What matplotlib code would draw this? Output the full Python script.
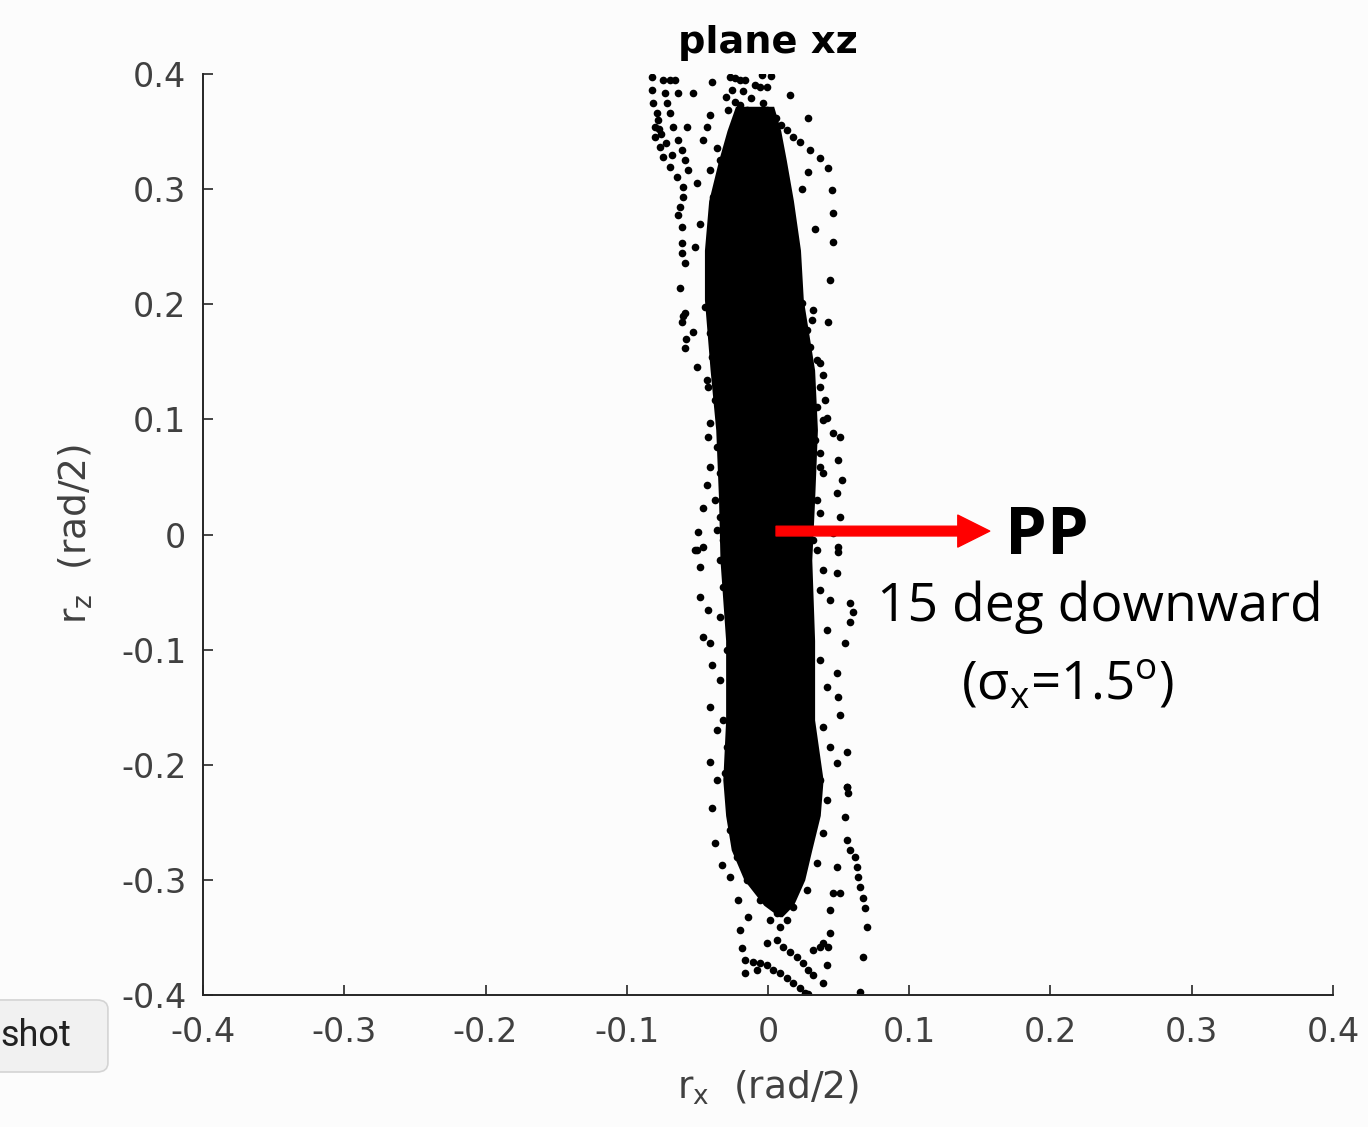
import matplotlib
matplotlib.use("Agg")
import matplotlib.pyplot as plt
from matplotlib.patches import FancyBboxPatch

# dense core of the cloud (solid band)
core_z = [0.372, 0.351, 0.325, 0.290, 0.247, 0.204, 0.143, 0.091, 0.030, -0.022,
          -0.092, -0.161, -0.213, -0.244, -0.274, -0.300, -0.322, -0.332]
core_left = [-0.023, -0.029, -0.035, -0.042, -0.045, -0.045, -0.041, -0.037, -0.035, -0.034,
             -0.030, -0.030, -0.032, -0.030, -0.026, -0.017, -0.003, 0.008]
core_right = [0.004, 0.009, 0.013, 0.018, 0.023, 0.025, 0.033, 0.035, 0.033, 0.031,
              0.033, 0.033, 0.039, 0.037, 0.031, 0.026, 0.018, 0.010]

# scattered points around the core (rx, rz)
top_rx = [-0.0824, -0.0741, -0.0694, -0.0659, -0.0824, -0.0729, -0.0635, -0.0529, -0.0812,
          -0.0788, -0.0800, -0.0800, -0.0765, -0.0741, -0.0694, -0.0647, -0.0600, -0.0600,
          -0.0623, -0.0635, -0.0611, -0.0611, -0.0611, -0.0588, -0.0623, -0.0718, -0.0694,
          -0.0670, -0.0635, -0.0611, -0.0588, -0.0564, -0.0576, -0.0269, -0.0234, -0.0198,
          -0.0045, -0.0092, -0.0057, -0.0010, -0.0399, -0.0257, -0.0234, -0.0198, -0.0151,
          -0.0104, -0.0033, -0.0010, 0.0156, 0.0285, 0.0132, 0.0226, 0.0297, 0.0368,
          0.0427, 0.0285, 0.0451, 0.0462, 0.0462, 0.0439, -0.0411, -0.0434, -0.0458,
          -0.0364, -0.0340, -0.0411, -0.0387, -0.0340, -0.0600, -0.0580, -0.0780, -0.0760,
          -0.0300, -0.0180, -0.0120, 0.0060, 0.0090, -0.0280, -0.0160, 0.0020, -0.0500,
          -0.0480, -0.0520, 0.0180, 0.0240, 0.0330, -0.0770, -0.0720, -0.0680]
top_rz = [0.3977, 0.3948, 0.3948, 0.3948, 0.3861, 0.3832, 0.3832, 0.3832, 0.3746,
          0.3659, 0.3543, 0.3456, 0.3369, 0.3282, 0.3196, 0.3109, 0.3022, 0.2935,
          0.2848, 0.2776, 0.2674, 0.2530, 0.2443, 0.2356, 0.2139, 0.3746, 0.3659,
          0.3543, 0.3427, 0.3340, 0.3254, 0.3167, 0.3543, 0.3977, 0.3963, 0.3948,
          0.3990, 0.3905, 0.3890, 0.3890, 0.3934, 0.3861, 0.3760, 0.3731, 0.3688,
          0.3659, 0.3746, 0.3688, 0.3818, 0.3615, 0.3514, 0.3413, 0.3340, 0.3268,
          0.3181, 0.3152, 0.2993, 0.2790, 0.2544, 0.2211, 0.3644, 0.3543, 0.3427,
          0.3355, 0.3254, 0.3167, 0.2935, 0.2819, 0.1900, 0.1700, 0.3600, 0.3480,
          0.3800, 0.3850, 0.3790, 0.3620, 0.3560, 0.3690, 0.3950, 0.3980, 0.3050,
          0.2700, 0.2500, 0.3450, 0.3000, 0.2650, 0.3520, 0.3400, 0.3300]

mid_rx = [-0.0588, -0.0611, -0.0529, -0.0588, -0.0505, -0.0434, -0.0423, -0.0411, -0.0434,
          -0.0458, -0.0493, -0.0517, -0.0364, 0.0321, 0.0309, 0.0427, 0.0368, 0.0392,
          0.0403, 0.0415, 0.0462, 0.0510, 0.0498, 0.0521, 0.0486, 0.0510, 0.0462,
          0.0498, 0.0368, -0.0446, -0.0411, -0.0399, -0.0423, -0.0375, -0.0411, -0.0364,
          -0.0340, -0.0375, -0.0340, -0.0316, 0.0238, 0.0274, 0.0297, 0.0344, 0.0368,
          0.0344, 0.0392, 0.0333, 0.0368, 0.0392, 0.0344, 0.0368, 0.0321]
mid_rz = [0.1921, 0.1849, 0.1762, 0.1617, 0.1458, 0.1342, 0.0850, 0.0589, 0.0430,
          0.0228, 0.0025, -0.0134, 0.0039, 0.1950, 0.1863, 0.1849, 0.1487, 0.1386,
          0.1169, 0.1009, 0.0879, 0.0850, 0.0647, 0.0474, 0.0358, 0.0155, 0.0011,
          -0.0105, 0.0589, 0.1979, 0.1747, 0.1545, 0.1284, 0.1169, 0.0966, 0.0763,
          0.0532, 0.0300, 0.0155, -0.0047, 0.2008, 0.1776, 0.1632, 0.1516, 0.1284,
          0.1111, 0.0995, 0.0821, 0.0705, 0.0532, 0.0300, 0.0184, -0.0047]

low_rx = [-0.0505, -0.0458, -0.0482, -0.0482, -0.0423, -0.0458, -0.0411, -0.0399, -0.0411,
          -0.0364, -0.0411, -0.0364, 0.0498, 0.0486, 0.0439, 0.0580, 0.0604, 0.0580,
          0.0545, 0.0486, 0.0498, 0.0510, 0.0557, 0.0486, 0.0557, -0.0340, -0.0316,
          -0.0340, -0.0293, -0.0340, -0.0316, -0.0293, -0.0305, 0.0344, 0.0392, 0.0368,
          0.0415, 0.0368, 0.0415, 0.0392, 0.0439, 0.0368]
low_rz = [-0.0135, -0.0106, -0.0280, -0.0540, -0.0656, -0.0888, -0.0945, -0.1134, -0.1496,
          -0.1698, -0.1973, -0.2132, -0.0149, -0.0338, -0.0569, -0.0598, -0.0670, -0.0757,
          -0.0945, -0.1206, -0.1409, -0.1568, -0.1886, -0.1988, -0.2190, -0.0222, -0.0453,
          -0.0714, -0.1003, -0.1264, -0.1611, -0.1843, -0.2075, -0.0135, -0.0309, -0.0482,
          -0.0830, -0.1090, -0.1322, -0.1669, -0.1843, -0.2132]

bot_rx = [-0.0399, -0.0375, -0.0328, -0.0269, -0.0210, -0.0139, -0.0198, -0.0187, -0.0163,
          -0.0163, -0.0080, -0.0010, -0.0104, -0.0057, -0.0010, 0.0038, 0.0085, 0.0132,
          0.0179, 0.0226, 0.0262, 0.0285, 0.0061, 0.0108, 0.0156, 0.0203, 0.0250,
          0.0285, 0.0321, 0.0321, 0.0368, 0.0392, 0.0557, 0.0569, 0.0545, 0.0557,
          0.0580, 0.0616, 0.0628, 0.0639, 0.0651, 0.0675, 0.0687, 0.0698, 0.0675,
          0.0651, 0.0439, 0.0427, 0.0415, 0.0392, 0.0462, 0.0510, 0.0486, 0.0439,
          -0.0269, -0.0222, -0.0151, -0.0057, 0.0061, 0.0179, 0.0274, 0.0344, 0.0392,
          0.0415, 0.0014, 0.0132, 0.0085]
bot_rz = [-0.2378, -0.2682, -0.2870, -0.2972, -0.3174, -0.3319, -0.3435, -0.3594, -0.3695,
          -0.3811, -0.3782, -0.3551, -0.3710, -0.3724, -0.3739, -0.3782, -0.3811, -0.3855,
          -0.3898, -0.3941, -0.3985, -0.3990, -0.3522, -0.3580, -0.3623, -0.3666, -0.3724,
          -0.3782, -0.3826, -0.3608, -0.3580, -0.3551, -0.2190, -0.2248, -0.2450, -0.2653,
          -0.2740, -0.2798, -0.2885, -0.2972, -0.3058, -0.3160, -0.3247, -0.3406, -0.3666,
          -0.3970, -0.3464, -0.3580, -0.3739, -0.3898, -0.3116, -0.3116, -0.2885, -0.3261,
          -0.2566, -0.2798, -0.3000, -0.3174, -0.3290, -0.3232, -0.3087, -0.2856, -0.2595,
          -0.2306, -0.3348, -0.3348, -0.3406]

ticks = [-0.4, -0.3, -0.2, -0.1, 0, 0.1, 0.2, 0.3, 0.4]
tick_labels = ['-0.4', '-0.3', '-0.2', '-0.1', '0', '0.1', '0.2', '0.3', '0.4']

bg = '#fcfcfc'
fig = plt.figure(figsize=(13.68, 11.27), dpi=100, facecolor=bg)
ax = fig.add_axes([0.1484, 0.1171, 0.8260, 0.8172], facecolor=bg)

ax.fill_betweenx(core_z, core_left, core_right, color='k', lw=0)
for xs, zs in [(top_rx, top_rz), (mid_rx, mid_rz), (low_rx, low_rz), (bot_rx, bot_rz)]:
    ax.plot(xs, zs, 'o', color='k', ms=5.5, mec='none')

ax.set_xlim(-0.4, 0.4)
ax.set_ylim(-0.4, 0.4)
ax.set_xticks(ticks)
ax.set_xticklabels(tick_labels)
ax.set_yticks(ticks)
ax.set_yticklabels(tick_labels)
for s in ['top', 'right']:
    ax.spines[s].set_visible(False)
for s in ['left', 'bottom']:
    ax.spines[s].set_linewidth(1.4)
    ax.spines[s].set_color('#262626')
ax.tick_params(direction='in', length=7, width=1.2, color='#262626',
               labelsize=24, labelcolor='#404040', pad=12)
ax.tick_params(axis='x', pad=15)

ax.set_title('plane xz', fontsize=27.5, fontweight='bold', pad=15)
ax.set_xlabel(r'r$_\mathregular{x}$  (rad/2)', fontsize=27, color='#404040')
ax.set_ylabel(r'r$_\mathregular{z}$  (rad/2)', fontsize=27, color='#404040')
ax.xaxis.set_label_coords(0.5, -0.080)
ax.yaxis.set_label_coords(-0.096, 0.5)

# annotation
ax.annotate('', xy=(0.157, 0.003), xytext=(0.0057, 0.003),
            arrowprops=dict(facecolor='red', edgecolor='red', width=7,
                            headwidth=23, headlength=23, shrink=0))
ax.text(0.168, -0.002, 'PP', fontsize=48, fontweight='bold', family='Open Sans',
        ha='left', va='center')
ax.text(0.235, -0.063, '15 deg downward', fontsize=38.5, family='Open Sans',
        ha='center', va='center')
ax.text(0.212, -0.131, r'(σ$_\mathregular{x}$=1.5$^\mathregular{o}$)', fontsize=38,
        family='Open Sans', ha='center', va='center')

# screenshot button in the corner
btn = FancyBboxPatch((-0.02, 0.0488), 0.0989, 0.0639,
                     boxstyle='round,pad=0,rounding_size=0.008',
                     transform=fig.transFigure, facecolor='#f1f1f1',
                     edgecolor='#d4d4d4', lw=1.2)
fig.patches.append(btn)
fig.text(0.0, 0.0808, 'shot', fontsize=26, family='Roboto', color='#222222',
         ha='left', va='center')

fig.savefig('out.png', dpi=100, facecolor=bg)
